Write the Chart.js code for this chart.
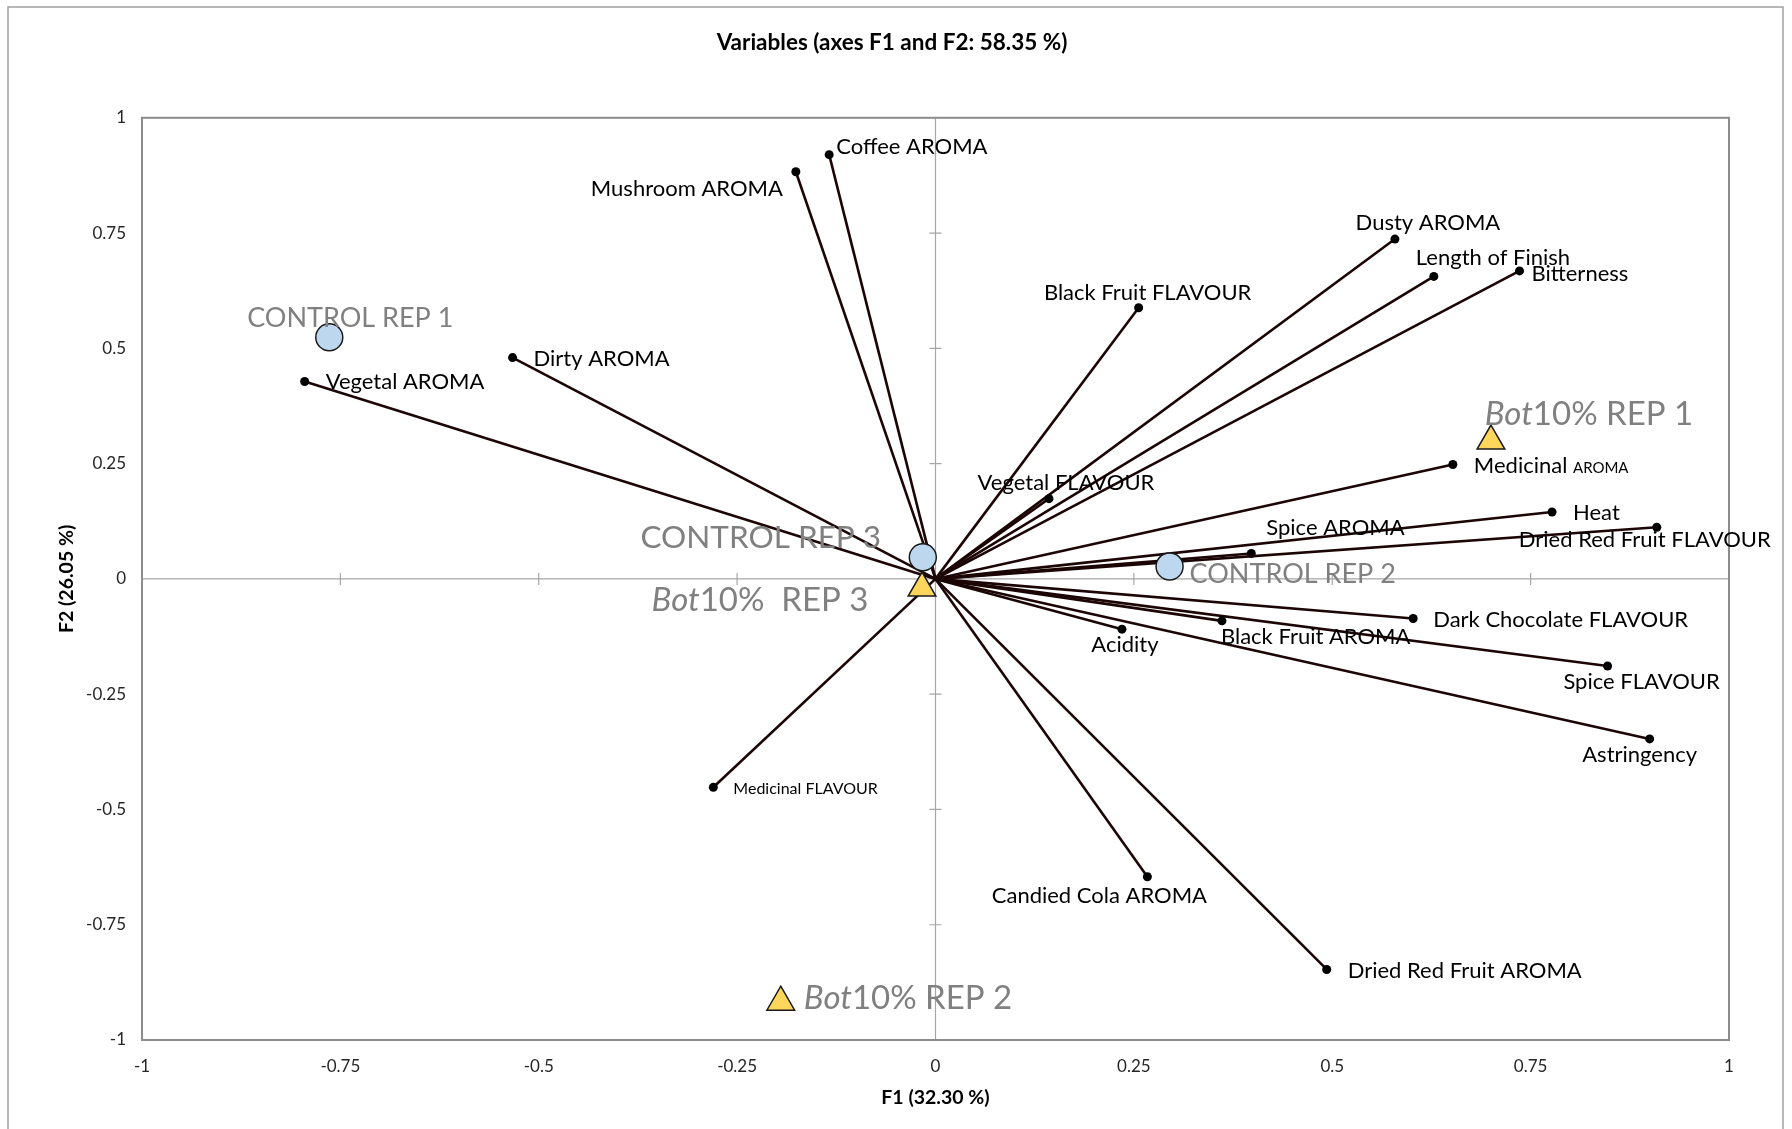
<!DOCTYPE html>
<html>
<head>
<meta charset="utf-8">
<title>Variables (axes F1 and F2: 58.35 %)</title>
<script src="https://cdn.jsdelivr.net/npm/chart.js@4.4.1/dist/chart.umd.min.js"></script>
<style>
  html, body { margin: 0; padding: 0; background: #fff; }
  #wrap { width: 1792px; height: 1129px; position: relative; }
</style>
</head>
<body>
<div id="wrap"><canvas id="pcaChart"></canvas></div>
<script>
// sensory variables: loadings on F1 / F2
const varNames = [
  'Coffee AROMA', 'Mushroom AROMA', 'Dirty AROMA', 'Vegetal AROMA', 'Black Fruit FLAVOUR',
  'Vegetal FLAVOUR', 'Dusty AROMA', 'Length of Finish', 'Bitterness', 'Medicinal AROMA',
  'Heat', 'Dried Red Fruit FLAVOUR', 'Spice AROMA', 'Dark Chocolate FLAVOUR', 'Black Fruit AROMA',
  'Acidity', 'Spice FLAVOUR', 'Astringency', 'Medicinal FLAVOUR', 'Candied Cola AROMA',
  'Dried Red Fruit AROMA'
];
const varF1 = [-0.134, -0.176, -0.533, -0.795, 0.256, 0.143, 0.579, 0.628, 0.736, 0.652,
  0.777, 0.909, 0.398, 0.602, 0.361, 0.235, 0.847, 0.900, -0.280, 0.267, 0.493];
const varF2 = [0.920, 0.883, 0.480, 0.428, 0.588, 0.174, 0.737, 0.656, 0.668, 0.248,
  0.145, 0.112, 0.055, -0.086, -0.091, -0.109, -0.189, -0.347, -0.452, -0.646, -0.847];

// wine samples
const ctrlNames = ['CONTROL REP 1', 'CONTROL REP 2', 'CONTROL REP 3'];
const ctrlF1 = [-0.764, 0.295, -0.016];
const ctrlF2 = [0.524, 0.027, 0.047];
const botNames = ['Bot10% REP 1', 'Bot10% REP 2', 'Bot10%  REP 3'];
const botF1 = [0.700, -0.195, -0.017];
const botF2 = [0.299, -0.918, -0.020];

const axisTicks = [-1, -0.75, -0.5, -0.25, 0, 0.25, 0.5, 0.75, 1];

// label placement: pixel offset from the point, text alignment
const varLabelAt = [
  [7, -1, 'left'], [-13, 24, 'right'], [21, 8, 'left'], [21, 7, 'left'], [9, -8, 'center'],
  [17, -9, 'center'], [33, -9, 'center'], [-18, -11, 'left'], [12, 10, 'left'], [21, 8, 'left'],
  [21, 8, 'left'], [-12, 20, 'center'], [15, -19, 'left'], [20, 8, 'left'], [-1, 23, 'left'],
  [3, 23, 'center'], [34, 23, 'center'], [-10, 23, 'center'], [20, 7, 'left'], [-48, 26, 'center'],
  [21, 9, 'left']
];
const ctrlLabelAt = [[21, -10, 'center', 27], [20, 17, 'left', 27], [-162, -9, 'center', 31.5]];
const botLabelAt = [[98, -16, 'center', 33], [23, 7, 'left', 33], [-162, 23, 'center', 33]];

const FONT = 'Lato, "Open Sans", sans-serif';
Chart.defaults.font.family = FONT;
Chart.defaults.color = '#262626';

function fnt(size, style) {
  return (style || '') + ' ' + size + 'px ' + FONT;
}

function drawParts(ctx, parts, x, y, align, color) {
  let total = 0;
  parts.forEach(p => { ctx.font = p.f; p.w = ctx.measureText(p.t).width; total += p.w; });
  let cx = align === 'left' ? x : align === 'right' ? x - total : x - total / 2;
  ctx.fillStyle = color;
  ctx.textAlign = 'left';
  ctx.textBaseline = 'alphabetic';
  parts.forEach(p => { ctx.font = p.f; ctx.fillText(p.t, cx, y); cx += p.w; });
}

const framePlugin = {
  id: 'frames',
  beforeDraw(chart) {
    const {ctx, width, height} = chart;
    ctx.save();
    ctx.fillStyle = '#fff';
    ctx.fillRect(0, 0, width, height);
    ctx.strokeStyle = '#a0a0a0';
    ctx.lineWidth = 1.5;
    ctx.strokeRect(8, 7, 1775, height + 20);
    ctx.restore();
  },
  beforeDatasetsDraw(chart) {
    const {ctx, chartArea: a, scales: {x, y}} = chart;
    const x0 = x.getPixelForValue(0), y0 = y.getPixelForValue(0);
    ctx.save();
    ctx.strokeStyle = '#a6a6a6';
    ctx.lineWidth = 1.2;
    ctx.beginPath();
    ctx.moveTo(x0, a.top); ctx.lineTo(x0, a.bottom);
    ctx.moveTo(a.left, y0); ctx.lineTo(a.right, y0);
    axisTicks.forEach(v => {
      if (v === 0 || Math.abs(v) === 1) return;
      const tx = x.getPixelForValue(v);
      ctx.moveTo(tx, y0 - 6); ctx.lineTo(tx, y0 + 6);
      const ty = y.getPixelForValue(v);
      ctx.moveTo(x0 - 6, ty); ctx.lineTo(x0 + 6, ty);
    });
    ctx.stroke();
    ctx.strokeStyle = '#8c8c8c';
    ctx.lineWidth = 2;
    ctx.strokeRect(a.left, a.top, a.width, a.height);
    ctx.restore();
  }
};

const labelPlugin = {
  id: 'pcaLabels',
  afterDatasetsDraw(chart) {
    const {ctx, scales: {x, y}} = chart;
    ctx.save();
    varNames.forEach((name, i) => {
      const [dx, dy, align] = varLabelAt[i];
      const px = x.getPixelForValue(varF1[i]) + dx;
      const py = y.getPixelForValue(varF2[i]) + dy;
      let parts;
      if (name === 'Medicinal AROMA') {
        parts = [{t: 'Medicinal ', f: fnt(22)}, {t: 'AROMA', f: fnt(15)}];
      } else {
        parts = [{t: name, f: fnt(name === 'Medicinal FLAVOUR' ? 16 : 22)}];
      }
      drawParts(ctx, parts, px, py, align, '#000');
    });
    ctrlNames.forEach((name, i) => {
      const [dx, dy, align, size] = ctrlLabelAt[i];
      drawParts(ctx, [{t: name, f: fnt(size)}],
        x.getPixelForValue(ctrlF1[i]) + dx, y.getPixelForValue(ctrlF2[i]) + dy, align, '#808080');
    });
    botNames.forEach((name, i) => {
      const [dx, dy, align, size] = botLabelAt[i];
      const parts = [{t: 'Bot', f: fnt(size, 'italic')}, {t: name.slice(3), f: fnt(size)}];
      drawParts(ctx, parts,
        x.getPixelForValue(botF1[i]) + dx, y.getPixelForValue(botF2[i]) + dy, align, '#808080');
    });
    ctx.restore();
  }
};

// one segment from the origin to each variable
const loadingSets = varNames.map((name, i) => ({
  label: name,
  data: [{x: 0, y: 0}, {x: varF1[i], y: varF2[i]}],
  showLine: true,
  borderColor: '#1c0505',
  borderWidth: 2.6,
  pointRadius: [0, 4.5],
  pointBackgroundColor: '#000',
  pointBorderColor: '#000',
  pointBorderWidth: 0,
  order: 2
}));

const ctrlSet = {
  label: 'CONTROL',
  data: ctrlNames.map((n, i) => ({x: ctrlF1[i], y: ctrlF2[i]})),
  pointStyle: 'circle',
  pointRadius: 13.5,
  pointBackgroundColor: '#bdd7ee',
  pointBorderColor: '#1a1a1a',
  pointBorderWidth: 1.5,
  order: 0
};
const botSet = {
  label: 'Bot10%',
  data: botNames.map((n, i) => ({x: botF1[i], y: botF2[i]})),
  pointStyle: 'triangle',
  pointRadius: 16,
  pointBackgroundColor: '#ffd65c',
  pointBorderColor: '#1a1a1a',
  pointBorderWidth: 1.5,
  order: 0
};

const ctx = document.getElementById('pcaChart').getContext('2d');

const chart = new Chart(ctx, {
  type: 'scatter',
  data: { datasets: [ctrlSet, botSet, ...loadingSets] },
  options: {
    responsive: true,
    maintainAspectRatio: false,
    animation: false,
    devicePixelRatio: 1,
    layout: { padding: { left: 55, right: 63, top: 0, bottom: 0 } },
    plugins: {
      legend: { display: false },
      tooltip: { enabled: false },
      title: {
        display: true,
        text: 'Variables (axes F1 and F2: 58.35 %)',
        color: '#000',
        font: { size: 22.5, weight: 'bold' },
        padding: { top: 29.5, bottom: 61.3 }
      }
    },
    scales: {
      x: {
        type: 'linear', min: -1, max: 1,
        afterBuildTicks: s => { s.ticks = axisTicks.map(v => ({value: v})); },
        grid: { display: false, drawTicks: false },
        border: { display: false },
        ticks: { padding: 16, autoSkip: false, maxRotation: 0, font: { size: 17 }, color: '#262626', callback: v => String(v) },
        title: { display: true, text: 'F1 (32.30 %)', color: '#000', font: { size: 19.5, weight: 'bold' }, padding: { top: 0, bottom: 19.5 } },
        afterFit: s => { s.height = 89; }
      },
      y: {
        type: 'linear', min: -1, max: 1,
        afterBuildTicks: s => { s.ticks = axisTicks.map(v => ({value: v})); },
        grid: { display: false, drawTicks: false },
        border: { display: false },
        ticks: { padding: 16, autoSkip: false, font: { size: 17 }, color: '#262626', callback: v => String(v) },
        title: { display: true, text: 'F2 (26.05 %)', color: '#000', font: { size: 19.5, weight: 'bold' }, padding: { top: 0, bottom: 0 } },
        afterFit: s => { s.width = 87; }
      }
    }
  },
  plugins: [framePlugin, labelPlugin]
});
</script>
</body>
</html>
